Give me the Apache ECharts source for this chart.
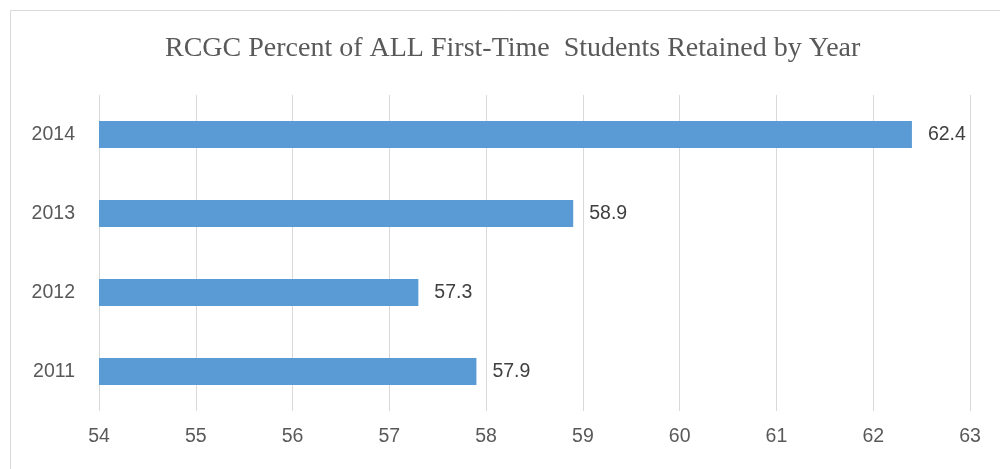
<!DOCTYPE html>
<html><head><meta charset="utf-8">
<script src="https://cdn.jsdelivr.net/npm/echarts@6/dist/echarts.min.js"></script>
<style>html,body{margin:0;padding:0;background:#fff}#c{width:1000px;height:469px}</style>
</head><body><div id="c"></div>
<script>
const categories = ['2011', '2012', '2013', '2014'];
const values = [57.9, 57.3, 58.9, 62.4];
const xMin = 54, xMax = 63, xStep = 1;
const titleText = 'RCGC Percent of ALL First-Time  Students Retained by Year';

const chart = echarts.init(document.getElementById('c'));
chart.setOption({
  backgroundColor: '#fff',
  animation: false,
  graphic: [{
    type: 'rect', shape: {x: 10.5, y: 10.5, width: 1000, height: 500},
    style: {fill: 'none', stroke: '#d9d9d9', lineWidth: 1}
  }],
  title: {
    text: titleText, left: 160, top: 30,
    textStyle: {fontFamily: 'Liberation Serif', fontSize: 28, fontWeight: 'normal', color: '#595959'}
  },
  grid: {left: 99, right: 30, top: 95, bottom: 58, containLabel: false},
  xAxis: {
    type: 'value', min: xMin, max: xMax, interval: xStep,
    axisLine: {show: false}, axisTick: {show: false},
    splitLine: {show: true, lineStyle: {color: '#d9d9d9', width: 1}},
    axisLabel: {fontFamily: 'Liberation Sans', fontSize: 19.5, color: '#595959', margin: 16}
  },
  yAxis: {
    type: 'category', data: categories,
    axisLine: {show: false}, axisTick: {show: false},
    axisLabel: {fontFamily: 'Liberation Sans', fontSize: 19.5, color: '#595959', margin: 24}
  },
  series: [{
    type: 'bar', data: values, barWidth: 27,
    itemStyle: {color: '#5b9bd5'},
    label: {show: true, position: 'right', distance: 16, fontFamily: 'Liberation Sans', fontSize: 19.5, color: '#404040'}
  }]
});
</script></body></html>
